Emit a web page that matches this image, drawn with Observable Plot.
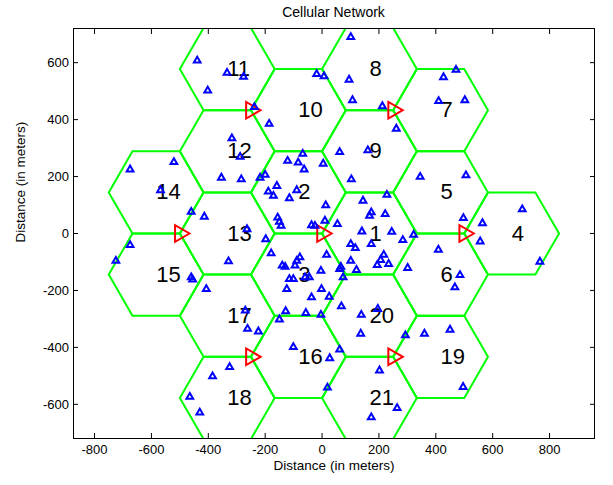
<!DOCTYPE html>
<html><head><meta charset="utf-8">
<script src="https://cdn.jsdelivr.net/npm/d3@7"></script>
<script src="https://cdn.jsdelivr.net/npm/@observablehq/plot@0.6"></script>
<style>
body{margin:0;background:#fff;font-family:Arial,"Liberation Sans",sans-serif;}
#title{height:20px;line-height:24px;width:521px;margin-left:73px;text-align:center;font-size:14px;color:#000;overflow:visible;white-space:nowrap;}
</style></head><body>
<div id="title">Cellular Network</div>
<div id="chart"></div>
<script>
// Cell ids and their hexagon centres (metres)
const cellIds = [1,2,3,4,5,6,7,8,9,10,11,12,13,14,15,16,17,18,19,20,21];
const cellX = [166.7,-83.3,-83.3,666.7,416.7,416.7,416.7,166.7,166.7,-83.3,-333.3,-333.3,-333.3,-583.3,-583.3,-83.3,-333.3,-333.3,416.7,166.7,166.7];
const cellY = [0,144.3,-144.3,0,144.3,-144.3,433,577.4,288.7,433,577.4,288.7,0,144.3,-144.3,-433,-288.7,-577.4,-433,-288.7,-577.4];
const cellRadius = 166.7;

// Base station sites
const siteX = [0,500,250,-250,-500,-250,250];
const siteY = [0,0,433,433,0,-433,-433];

// Mobile users
const userX = [-439,-334,-276,-402,-317,-288,-521,
  101,-19,7,95,107,212,-238,-186,261,62,161,-68,-121,-84,4,
  471,427,410,502,
  -675,-354,-284,-568,-460,-414,-264,-675,-725,-329,-460,-455,-407,
  -63,103,345,-218,-200,-159,-189,-171,-89,-115,13,144,228,173,167,222,-156,-150,-144,-37,-25,10,54,140,245,284,322,-198,101,117,173,-179,-78,16,217,206,234,194,101,121,-140,-130,-89,-95,-4,66,62,74,301,-115,-101,-60,-45,-124,-2,-37,25,
  506,497,564,556,704,409,766,485,467,
  -270,-262,-325,-385,-465,-430,
  -224,68,-128,-150,-57,-4,138,196,136,293,360,-101,62,27,202,19,264,173,
  450,496];
const userY = [607,564,550,502,334,269,251,
  690,560,552,540,468,447,444,385,368,286,292,280,255,249,245,
  575,549,465,468,
  225,196,190,152,76,59,15,-41,-96,-98,-154,-162,-195,
  225,190,199,196,206,167,147,132,152,124,99,115,136,74,62,68,56,41,27,29,27,45,33,7,6,-23,-5,-20,-37,-51,-37,-70,-84,-75,-75,-93,-107,-111,-96,-128,-113,-117,-96,-113,-131,-117,-125,-154,-121,-160,-160,-154,-154,-195,-195,-224,-222,
  204,54,36,-28,85,-57,-99,-146,-189,
  -271,-335,-469,-502,-574,-629,
  -344,-256,-273,-302,-279,-286,-286,-265,-352,-358,-352,-399,-408,-438,-481,-541,-613,-646,
  -338,-539];

const xTicks = [-800,-600,-400,-200,0,200,400,600,800];
const yTicks = [-600,-400,-200,0,200,400,600];

const cells = cellIds.map((id,i)=>({id, x:cellX[i], y:cellY[i]}));
const hexPts = cells.flatMap(c => d3.range(7).map(k => ({cell:c.id,
  x: c.x + cellRadius*Math.cos(k*Math.PI/3),
  y: c.y + cellRadius*Math.sin(k*Math.PI/3)})));
const sites = siteX.map((x,i)=>({x, y:siteY[i]}));
const users = userX.map((x,i)=>({x, y:userY[i]}));

const chart = Plot.plot({
  width: 613, height: 465,
  marginTop: 8, marginBottom: 47, marginLeft: 73, marginRight: 19,
  x: {domain: [-874, 958]},
  y: {domain: [-720, 720]},
  style: {fontFamily: "Arial, 'Liberation Sans', sans-serif", fontSize: "13px", color: "#000", background: "#fff"},
  marks: [
    Plot.line(hexPts, {x:"x", y:"y", z:"cell", stroke:"#00ff00", strokeWidth:2, clip:true}),
    Plot.text(cells, {x:"x", y:"y", text: d => String(d.id), textAnchor:"start", fontSize:22, fill:"#000"}),
    Plot.dot(sites, {x:"x", y:"y", symbol:"triangle", rotate:90, r:6.2, stroke:"#ff0000", strokeWidth:2, fill:"none"}),
    Plot.dot(users, {x:"x", y:"y", symbol:"triangle", r:2.5, stroke:"#0000ff", strokeWidth:2, fill:"none"}),
    Plot.frame({stroke:"#000", strokeWidth:1}),
    Plot.axisX(xTicks, {anchor:"bottom", tickSize:-5, tickPadding:11, label:null, fontSize:13, tickFormat: d => String(d)}),
    Plot.axisX(xTicks, {anchor:"top", tickSize:-5, label:null, tickFormat: () => ""}),
    Plot.axisY(yTicks, {anchor:"left", tickSize:-5, tickPadding:9.5, label:null, fontSize:13, tickFormat: d => String(d)}),
    Plot.axisY(yTicks, {anchor:"right", tickSize:-5, label:null, tickFormat: () => ""}),
    Plot.text(["Distance (in meters)"], {frameAnchor:"bottom", dy:31, fontSize:13.5, fill:"#000"}),
    Plot.text(["Distance (in meters)"], {frameAnchor:"left", rotate:-90, dx:-53, dy:9, fontSize:13.5, fill:"#000"})
  ]
});
document.getElementById("chart").appendChild(chart);
</script></body></html>
